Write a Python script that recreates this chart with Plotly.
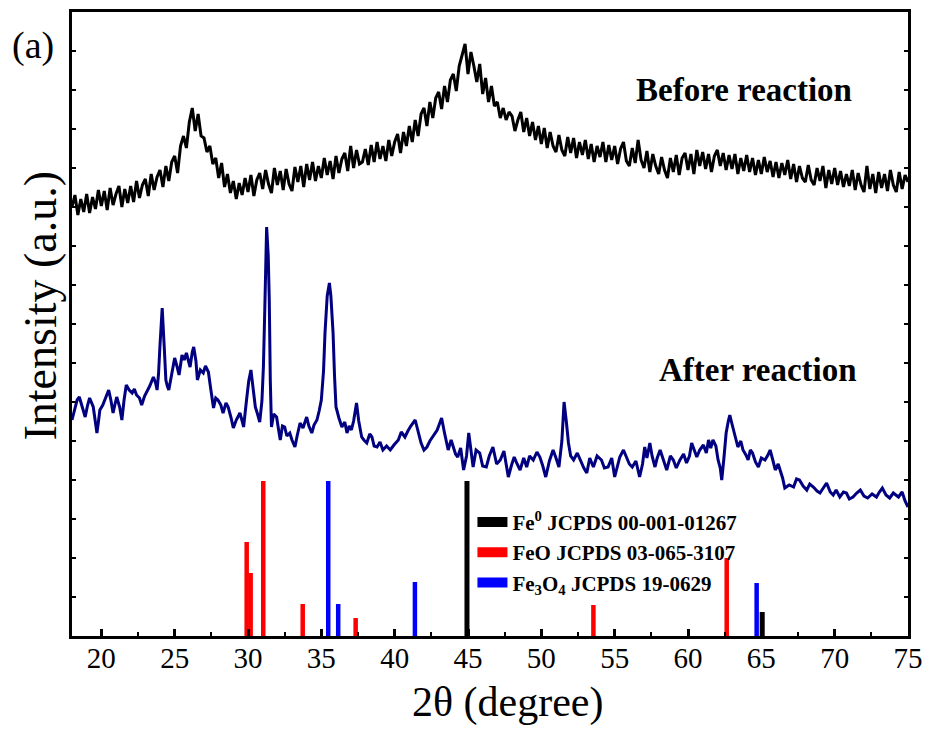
import plotly.graph_objects as go

# ---------------- data ----------------
# Before reaction: 2theta from 18 to 75 step 0.2 (intensity, a.u.)
before_x = [round(18 + 0.2 * i, 1) for i in range(286)]
before_y = [
    429, 441, 421, 437, 424,
    442, 423, 439, 427, 446,
    430, 445, 426, 448, 431,
    442, 450, 429, 447, 433,
    450, 434, 455, 438, 451,
    457, 440, 462, 446, 459,
    466, 449, 470, 455, 474,
    480, 463, 490, 500, 488,
    514, 528, 505, 522, 500,
    498, 484, 490, 472, 478,
    458, 473, 449, 462, 443,
    455, 437, 453, 441, 458,
    444, 461, 440, 456, 463,
    447, 466, 452, 443, 468,
    451, 465, 446, 467, 452,
    445, 469, 454, 470, 449,
    472, 456, 474, 455, 470,
    458, 478, 461, 475, 457,
    480, 463, 477, 483, 465,
    490, 468, 486, 472, 474,
    487, 471, 491, 474, 494,
    477, 490, 475, 496, 480,
    494, 502, 483, 504, 490,
    510, 494, 516, 500, 522,
    528, 510, 534, 518, 538,
    544, 527, 550, 534, 556,
    562, 545, 570, 580, 592,
    562, 584, 570, 554, 572,
    542, 558, 534, 550, 530,
    534, 518, 528, 516, 524,
    520, 505, 516, 524, 504,
    518, 500, 514, 496, 510,
    492, 508, 488, 504, 490,
    484, 501, 486, 480, 499,
    483, 498, 478, 494, 481,
    496, 477, 492, 474, 490,
    479, 494, 474, 491, 476,
    490, 472, 487, 494, 475,
    470, 488, 473, 496, 476,
    468, 485, 464, 482, 470,
    462, 479, 466, 458, 478,
    464, 481, 461, 478, 483,
    466, 482, 462, 486, 470,
    484, 467, 482, 464, 480,
    486, 470, 483, 466, 481,
    467, 482, 462, 478, 465,
    481, 464, 478, 461, 476,
    462, 479, 464, 475, 459,
    474, 458, 473, 461, 476,
    457, 472, 454, 470, 458,
    454, 471, 456, 451, 468,
    455, 470, 448, 466, 452,
    468, 451, 465, 449, 462,
    450, 466, 446, 463, 451,
    444, 470, 447, 462, 443,
    464, 448, 462, 445, 466,
    451, 444, 464, 447, 461,
    454,
]

# After reaction: (2theta, intensity)
after_pts = [
    (18.0, 216), (18.2, 228), (18.35, 236), (18.5, 239), (18.7, 230), (18.9, 219),
    (19.05, 230), (19.2, 238), (19.45, 229), (19.6, 215), (19.7, 203), (19.8, 214),
    (19.9, 226), (20.1, 231), (20.25, 236), (20.5, 246), (20.65, 236), (20.8, 223),
    (20.95, 233), (21.05, 239), (21.25, 229), (21.4, 216), (21.55, 236), (21.7, 251),
    (21.9, 246), (22.1, 243), (22.25, 247), (22.4, 241), (22.6, 238), (22.75, 231),
    (22.95, 240), (23.1, 244), (23.3, 250), (23.55, 259), (23.7, 253), (23.8, 246),
    (23.9, 262), (24.0, 291), (24.15, 328), (24.3, 286), (24.4, 256), (24.5, 250),
    (24.6, 246), (24.8, 262), (25.0, 278), (25.15, 270), (25.3, 261), (25.5, 281),
    (25.65, 276), (25.8, 283), (25.95, 275), (26.05, 269), (26.2, 284), (26.3, 289),
    (26.45, 275), (26.55, 256), (26.75, 266), (26.95, 263), (27.1, 270), (27.3, 264),
    (27.45, 248), (27.65, 228), (27.8, 238), (27.95, 236), (28.15, 231), (28.3, 223),
    (28.5, 233), (28.65, 229), (28.85, 218), (29.0, 208), (29.2, 216), (29.45, 223),
    (29.6, 215), (29.7, 209), (29.9, 236), (30.05, 255), (30.2, 266), (30.35, 245),
    (30.5, 229), (30.65, 222), (30.8, 214), (30.95, 235), (31.05, 269), (31.15, 330),
    (31.27, 409), (31.38, 380), (31.45, 336), (31.52, 256), (31.6, 209), (31.75, 222),
    (31.95, 219), (32.1, 205), (32.2, 196), (32.35, 210), (32.5, 209), (32.65, 200),
    (32.85, 203), (33.0, 196), (33.2, 189), (33.35, 200), (33.55, 213), (33.75, 208),
    (34.0, 219), (34.15, 210), (34.35, 203), (34.5, 211), (34.7, 216), (34.85, 225),
    (35.0, 236), (35.15, 265), (35.25, 303), (35.4, 340), (35.55, 353), (35.65, 340),
    (35.8, 303), (35.9, 260), (36.0, 229), (36.2, 218), (36.4, 209), (36.6, 214),
    (36.75, 203), (36.9, 210), (37.05, 206), (37.2, 215), (37.4, 233), (37.55, 215),
    (37.75, 199), (37.9, 196), (38.1, 193), (38.3, 202), (38.45, 199), (38.6, 190),
    (38.8, 189), (39.0, 194), (39.2, 186), (39.45, 190), (39.7, 186), (39.95, 191),
    (40.25, 196), (40.45, 204), (40.7, 199), (40.9, 205), (41.1, 210), (41.4, 216),
    (41.6, 205), (41.8, 193), (42.0, 186), (42.2, 189), (42.4, 195), (42.6, 199),
    (42.9, 206), (43.05, 212), (43.2, 218), (43.4, 203), (43.55, 192), (43.65, 186),
    (43.85, 196), (44.0, 189), (44.15, 182), (44.3, 179), (44.5, 188), (44.7, 166),
    (44.9, 180), (45.05, 203), (45.2, 185), (45.35, 169), (45.55, 186), (45.8, 183),
    (46.0, 170), (46.25, 169), (46.45, 180), (46.7, 189), (46.95, 172), (47.2, 176),
    (47.45, 185), (47.75, 159), (47.95, 170), (48.15, 179), (48.35, 172), (48.55, 166),
    (48.8, 178), (49.0, 169), (49.2, 180), (49.45, 176), (49.7, 184), (49.9, 179),
    (50.1, 170), (50.3, 159), (50.55, 175), (50.8, 186), (51.0, 178), (51.2, 169),
    (51.4, 195), (51.55, 234), (51.7, 215), (51.85, 193), (52.0, 180), (52.2, 176),
    (52.45, 183), (52.65, 176), (52.9, 168), (53.1, 163), (53.3, 178), (53.55, 169),
    (53.8, 180), (54.1, 176), (54.3, 168), (54.55, 169), (54.8, 178), (55.0, 159),
    (55.2, 172), (55.35, 179), (55.6, 186), (55.8, 179), (56.0, 172), (56.2, 169),
    (56.45, 175), (56.7, 159), (56.9, 172), (57.05, 189), (57.2, 178), (57.4, 193),
    (57.55, 180), (57.75, 169), (57.9, 178), (58.1, 186), (58.3, 176), (58.55, 166),
    (58.8, 180), (59.0, 176), (59.2, 168), (59.45, 176), (59.7, 182), (59.9, 173),
    (60.1, 180), (60.25, 193), (60.45, 185), (60.6, 179), (60.8, 186), (61.05, 191),
    (61.25, 183), (61.4, 196), (61.55, 188), (61.7, 196), (61.9, 190), (62.05, 176),
    (62.2, 168), (62.3, 156), (62.45, 178), (62.6, 203), (62.75, 215), (62.85, 221),
    (63.0, 212), (63.1, 206), (63.25, 196), (63.4, 189), (63.6, 195), (63.75, 186),
    (63.95, 181), (64.1, 176), (64.25, 186), (64.4, 183), (64.6, 174), (64.8, 169),
    (65.0, 178), (65.25, 176), (65.45, 181), (65.6, 186), (65.8, 175), (65.95, 166),
    (66.15, 172), (66.3, 166), (66.45, 158), (66.6, 148), (66.9, 151), (67.2, 149),
    (67.4, 157), (67.6, 156), (67.85, 150), (68.1, 146), (68.3, 152), (68.55, 149),
    (68.8, 145), (69.0, 143), (69.25, 148), (69.45, 153), (69.7, 144), (69.9, 141),
    (70.1, 146), (70.35, 139), (70.6, 144), (70.8, 143), (71.0, 137), (71.25, 139),
    (71.5, 143), (71.75, 146), (72.0, 140), (72.25, 138), (72.55, 142), (72.85, 139),
    (73.05, 144), (73.25, 148), (73.5, 141), (73.75, 138), (74.0, 143), (74.35, 139),
    (74.6, 144), (74.8, 135), (75.0, 129),
]
after_x = [p[0] for p in after_pts]
after_y = [p[1] for p in after_pts]

# Reference patterns (stick positions and relative heights)
fe0_x = [44.93, 65.06]
fe0_h = [155, 24]
feo_x = [29.91, 30.18, 31.04, 33.73, 37.34, 53.55, 62.64]
feo_h = [94, 63, 155, 32, 18, 31, 78]
fe3o4_x = [35.47, 36.15, 41.38, 64.68]
fe3o4_h = [155, 32, 54, 53]

x_ticks = [20, 25, 30, 35, 40, 45, 50, 55, 60, 65, 70, 75]

# ---------------- figure ----------------
FONT = "Liberation Serif, Times New Roman, serif"


def sticks(xs, hs):
    xx, yy = [], []
    for x, h in zip(xs, hs):
        xx += [x, x, None]
        yy += [0, h, None]
    return xx, yy


fig = go.Figure()

for xs, hs, col, w in [(feo_x, feo_h, "#ff0000", 4.5),
                       (fe3o4_x, fe3o4_h, "#0000ff", 4.5),
                       (fe0_x, fe0_h, "#000000", 5)]:
    sx, sy = sticks(xs, hs)
    fig.add_trace(go.Scatter(x=sx, y=sy, mode="lines", showlegend=False,
                             line=dict(color=col, width=w), hoverinfo="skip"))

fig.add_trace(go.Scatter(x=before_x, y=before_y, mode="lines", showlegend=False,
                         line=dict(color="#000000", width=3)))
fig.add_trace(go.Scatter(x=after_x, y=after_y, mode="lines", showlegend=False,
                         line=dict(color="#000080", width=3)))

# legend entries
for name, col in [("<b>Fe<sup>0</sup> JCPDS 00-001-01267</b>", "#000000"),
                  ("<b>FeO JCPDS 03-065-3107</b>", "#ff0000"),
                  ("<b>Fe<sub>3</sub>O<sub>4</sub> JCPDS 19-0629</b>", "#0000ff")]:
    fig.add_trace(go.Scatter(x=[None], y=[None], mode="lines", name=name,
                             line=dict(color=col, width=13)))

fig.update_layout(
    width=928, height=736,
    margin=dict(l=72, r=20, t=12, b=100, autoexpand=False),
    paper_bgcolor="white", plot_bgcolor="white",
    font=dict(family=FONT, color="black"),
    legend=dict(x=0.479, y=0.215, xanchor="left", yanchor="top",
                bgcolor="rgba(0,0,0,0)", font=dict(size=21, family=FONT),
                tracegroupgap=0, itemwidth=30),
    xaxis=dict(range=[18, 75], tickvals=x_ticks, ticktext=[str(t) for t in x_ticks],
               ticks="inside", ticklen=7, tickwidth=3, tickcolor="black",
               showline=True, linewidth=3, linecolor="black", mirror=True,
               showgrid=False, zeroline=False, automargin=False,
               ticklabelstandoff=-6,
               tickfont=dict(size=29, family=FONT),
               minor=dict(dtick=2.5, tick0=20, ticks="inside", ticklen=4,
                          tickwidth=2, tickcolor="black", showgrid=False)),
    yaxis=dict(range=[0, 624], dtick=39, tick0=0, ticks="inside", ticklen=4,
               tickwidth=1.5, tickcolor="black", showticklabels=False,
               showline=True, linewidth=3, linecolor="black", mirror="ticks",
               showgrid=False, zeroline=False, automargin=False),
)

fig.add_annotation(text="<b>Before reaction</b>", x=63.8, y=546, xref="x", yref="y",
                   xanchor="center", yanchor="middle",
                   showarrow=False, font=dict(size=33, family=FONT))
fig.add_annotation(text="<b>After reaction</b>", x=64.8, y=266, xref="x", yref="y",
                   xanchor="center", yanchor="middle",
                   showarrow=False, font=dict(size=33, family=FONT))
fig.add_annotation(text="(a)", x=-0.047, y=0.947, xref="paper", yref="paper",
                   xanchor="center", yanchor="middle",
                   showarrow=False, font=dict(size=38, family=FONT))
fig.add_annotation(text="Intensity (a.u.)", x=-0.038, y=0.53, xref="paper", yref="paper",
                   xanchor="center", yanchor="middle",
                   showarrow=False, textangle=-90, font=dict(size=46, family=FONT))
fig.add_annotation(text="2θ (degree)", x=0.5215, y=-0.106, xref="paper", yref="paper",
                   xanchor="center", yanchor="middle",
                   showarrow=False, font=dict(size=42, family=FONT))

fig.write_html("out.html")
